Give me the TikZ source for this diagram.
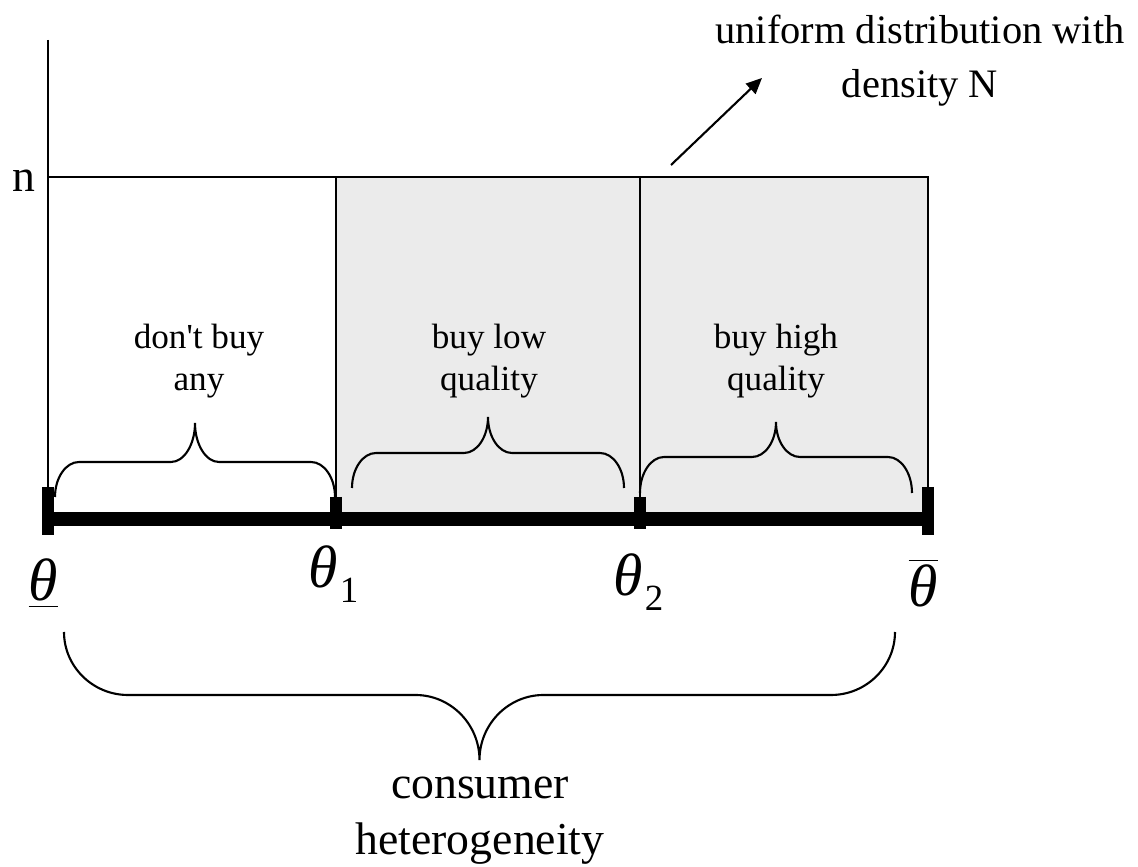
\documentclass[tikz,border=0pt]{standalone}
\usepackage{fontspec}
\setmainfont{Liberation Serif}[Ligatures=TeXOff]
\usetikzlibrary{arrows.meta,positioning}
\definecolor{regiongray}{RGB}{235,235,235}
\tikzset{
    %Define standard arrow tip
    >={Triangle[length=4.5pt,width=4pt]},
    %Define style for lines
    frame/.style={line width=0.6pt},
    axisline/.style={line width=4pt},
    endtick/.style={line width=3.3pt},
    curly/.style={line width=0.6pt},
    pointer/.style={line width=0.6pt, ->},
    %Define style for texts
    region/.style={
           font=\fontsize{10}{12}\selectfont,
           align=center,
           inner sep=0pt},
    bigtext/.style={
           font=\fontsize{13}{16}\selectfont,
           align=center,
           inner sep=0pt},
    toptext/.style={
           font=\fontsize{11.5}{15.3}\selectfont,
           align=center,
           inner sep=0pt},
    thetalabel/.style={
           font=\fontsize{17}{20}\selectfont\itshape,
           inner sep=0pt,
           anchor=base west}
}
% theta with a low subscript
\newcommand{\thetasub}[1]{θ\kern0.5pt\raisebox{-4.2pt}{\fontsize{10.5}{11}\upshape\selectfont #1}}
% curly brace: left x, right x, end y, middle y, tip y, corner width
\newcommand{\drawcurly}[6]{%
  \pgfmathsetmacro{\curlymid}{(#1+#2)/2}%
  \draw[curly] (#1,#3)
    .. controls (#1,{#3+0.55*(#4-#3)}) and ({#1+0.45*#6},#4) .. ({#1+#6},#4)
    -- ({\curlymid-#6},#4)
    .. controls ({\curlymid-0.45*#6},#4) and (\curlymid,{#4+0.45*(#5-#4)}) .. (\curlymid,#5)
    .. controls (\curlymid,{#4+0.45*(#5-#4)}) and ({\curlymid+0.45*#6},#4) .. ({\curlymid+#6},#4)
    -- ({#2-#6},#4)
    .. controls ({#2-0.45*#6},#4) and (#2,{#3+0.55*(#4-#3)}) .. (#2,#3);
}
\begin{document}
\begin{tikzpicture}[x=0.01cm,y=-0.01cm]
\useasboundingbox (0,0) rectangle (1138,867);

 %corners
\coordinate (ytop) at (48,40);
\coordinate (o) at (48,519);
\coordinate (q1) at (336,519);
\coordinate (q2) at (640,519);
\coordinate (qmax) at (928,519);
\coordinate (n0) at (48,177);
\coordinate (n1) at (336,177);
\coordinate (n2) at (640,177);
\coordinate (nmax) at (928,177);

 %buyers
\fill[regiongray] (n1) rectangle (qmax);

\draw[frame] (ytop) -- (o);
\draw[frame] (n0) -- (nmax) -- (qmax);
\draw[frame] (n1) -- (q1);
\draw[frame] (n2) -- (q2);

 %axis
\draw[axisline] (o) -- (qmax);
\draw[endtick] (o) ++(0,-32) -- ++(0,48);
\draw[endtick] (qmax) ++(0,-32) -- ++(0,48);
\draw[endtick] (q1) ++(0,-22) -- ++(0,32);
\draw[endtick] (q2) ++(0,-22) -- ++(0,32);

 %labels
\node[bigtext, anchor=base] (nlab) at (24,192) {n};
\node[thetalabel] (thlow) at (28,601) {\underline{θ}};
\node[thetalabel] (th1) at (308,588) {\thetasub{1}};
\node[thetalabel] (th2) at (613,596) {\thetasub{2}};
\node[thetalabel] (thhigh) at (908,607) {$\overline{\hbox{θ}}$};

 %braces
\drawcurly{55}{335}{497}{462}{423}{24}
\drawcurly{352}{624}{488}{453}{417}{24}
\drawcurly{640}{912}{493}{457}{422}{24}
\drawcurly{64}{895}{632}{695}{760}{64}

\node[region] (none) at (199,361) {don't buy\\any};
\node[region] (low) at (489,361) {buy low\\quality};
\node[region] (high) at (776,361) {buy high\\quality};
\node[bigtext] (hetero) at (480,821) {consumer\\heterogeneity};

 %density
\node[toptext] (unif) at (920,61) {uniform distribution with\\density N};
\coordinate (arrtail) at (671,165);
\coordinate (arrtip) at (762,78);
\draw[pointer] (arrtail) -- (arrtip);

\end{tikzpicture}
\end{document}
